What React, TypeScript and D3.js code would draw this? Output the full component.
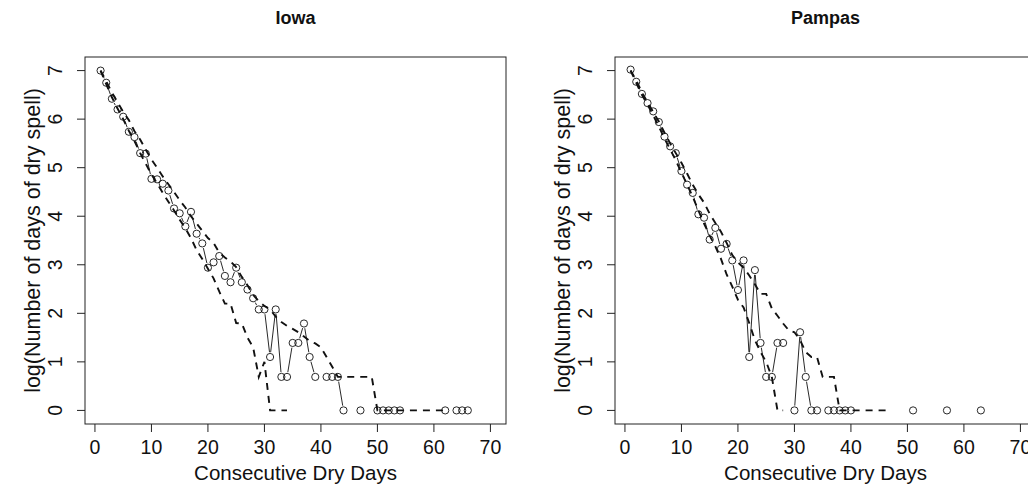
import React from "react";
import * as d3 from "d3";

// ---------- data ----------
const xTicks = [0, 10, 20, 30, 40, 50, 60, 70];
const yTicks = [0, 1, 2, 3, 4, 5, 6, 7];

// Iowa observed (day, log count)
const iowaDays = [1,2,3,4,5,6,7,8,9,10,11,12,13,14,15,16,17,18,19,20,21,22,23,24,25,26,27,28,29,30,31,32,33,34,35,36,37,38,39,41,42,43,44,47,50,51,52,53,54,62,64,65,66];
const iowaLog = [7.0,6.75,6.42,6.2,6.05,5.74,5.63,5.3,5.29,4.77,4.76,4.67,4.53,4.16,4.06,3.79,4.09,3.64,3.44,2.94,3.05,3.18,2.77,2.64,2.94,2.64,2.49,2.31,2.08,2.08,1.1,2.08,0.69,0.69,1.39,1.39,1.79,1.1,0.69,0.69,0.69,0.69,0,0,0,0,0,0,0,0,0,0,0];
// Iowa dashed curves (values for days 1..n)
const iowaUpper = [7.0,6.78,6.55,6.35,6.15,5.98,5.75,5.58,5.37,5.17,5.0,4.82,4.66,4.5,4.33,4.18,4.0,3.85,3.7,3.55,3.45,3.25,3.15,3.07,2.95,2.75,2.58,2.38,2.25,2.15,2.08,1.93,1.82,1.74,1.68,1.61,1.52,1.43,1.38,1.3,1.1,0.9,0.69,0.69,0.69,0.69,0.69,0.69,0.69,0,0,0,0,0,0,0,0,0,0,0,0,0];
const iowaLower = [7.0,6.72,6.45,6.22,6.0,5.76,5.55,5.3,5.08,4.86,4.68,4.48,4.3,4.12,3.93,3.75,3.55,3.3,3.12,2.92,2.72,2.45,2.2,2.2,1.8,1.79,1.5,1.3,0.69,1.0,0,0,0,0];

// Pampas observed
const pampasDays = [1,2,3,4,5,6,7,8,9,10,11,12,13,14,15,16,17,18,19,20,21,22,23,24,25,26,27,28,30,31,32,33,34,36,37,38,39,40,51,57,63];
const pampasLog = [7.02,6.77,6.52,6.33,6.16,5.94,5.64,5.44,5.3,4.93,4.65,4.48,4.04,3.97,3.52,3.76,3.33,3.43,3.09,2.48,3.09,1.1,2.89,1.39,0.69,0.69,1.39,1.39,0,1.61,0.69,0,0,0,0,0,0,0,0,0,0];
const pampasUpper = [7.0,6.8,6.55,6.35,6.15,5.95,5.72,5.5,5.3,5.1,4.88,4.65,4.45,4.28,4.05,3.86,3.68,3.45,3.2,3.05,2.94,2.78,2.6,2.4,2.4,2.1,1.95,1.79,1.65,1.61,1.45,1.2,1.1,1.1,0.69,0.69,0.69,0,0,0,0,0,0,0,0,0,0];
const pampasLower = [7.0,6.75,6.5,6.3,6.08,5.85,5.6,5.38,5.15,4.9,4.65,4.4,4.12,3.85,3.6,3.38,3.12,2.8,2.55,2.28,2.12,1.8,1.45,1.2,1.0,0.69,0,0];

const W = 1028;
const H = 497;
const FONT = "'Liberation Sans', Arial, Helvetica, sans-serif";
const INK = "#111";

type PanelDef = {
  title: string;
  offset: number;
  days: number[];
  vals: number[];
  upper: number[];
  lower: number[];
};

const panels: PanelDef[] = [
  { title: "Iowa", offset: 0, days: iowaDays, vals: iowaLog, upper: iowaUpper, lower: iowaLower },
  { title: "Pampas", offset: 530, days: pampasDays, vals: pampasLog, upper: pampasUpper, lower: pampasLower },
];

const BOX_L = 85, BOX_R = 506, BOX_T = 57, BOX_B = 424;

function Panel({ p }: { p: PanelDef }) {
  const x = d3.scaleLinear().domain([-1.76, 72.76]).range([BOX_L + p.offset, BOX_R + p.offset]);
  const y = d3.scaleLinear().domain([-0.28, 7.28]).range([BOX_B, BOX_T]);
  const dashLine = d3.line<number>().x((_, i) => x(i + 1)).y((v) => y(v));
  const r = 3.6;
  const gap = 4.8;
  const segs: { x1: number; y1: number; x2: number; y2: number }[] = [];
  for (let i = 0; i < p.days.length - 1; i++) {
    if (p.days[i + 1] - p.days[i] !== 1) continue;
    const ax = x(p.days[i]), ay = y(p.vals[i]);
    const bx = x(p.days[i + 1]), by = y(p.vals[i + 1]);
    const dx = bx - ax, dy = by - ay;
    const len = Math.hypot(dx, dy);
    if (len <= 2 * gap) continue;
    const ux = dx / len, uy = dy / len;
    segs.push({ x1: ax + ux * gap, y1: ay + uy * gap, x2: bx - ux * gap, y2: by - uy * gap });
  }
  const cx = (BOX_L + BOX_R) / 2 + p.offset;
  const cy = (BOX_T + BOX_B) / 2;
  return (
    <g>
      <text x={cx} y={24} textAnchor="middle" fontFamily={FONT} fontWeight="bold" fontSize={18} fill={INK}>
        {p.title}
      </text>
      <rect x={BOX_L + p.offset} y={BOX_T} width={BOX_R - BOX_L} height={BOX_B - BOX_T} fill="none" stroke="#222" strokeWidth={1} />
      {/* x axis */}
      {xTicks.map((t) => (
        <g key={"x" + t}>
          <line x1={x(t)} x2={x(t)} y1={BOX_B} y2={BOX_B + 8} stroke="#222" strokeWidth={1} />
          <text x={x(t)} y={454} textAnchor="middle" fontFamily={FONT} fontSize={19.5} fill={INK}>
            {t}
          </text>
        </g>
      ))}
      {/* y axis */}
      {yTicks.map((t) => (
        <g key={"y" + t}>
          <line x1={BOX_L + p.offset - 8} x2={BOX_L + p.offset} y1={y(t)} y2={y(t)} stroke="#222" strokeWidth={1} />
          <text
            transform={`translate(${62 + p.offset},${y(t)}) rotate(-90)`}
            textAnchor="middle"
            fontFamily={FONT}
            fontSize={19.5}
            fill={INK}
          >
            {t}
          </text>
        </g>
      ))}
      <text x={cx} y={480} textAnchor="middle" fontFamily={FONT} fontSize={20.5} fill={INK}>
        Consecutive Dry Days
      </text>
      <text
        transform={`translate(${40 + p.offset},${cy}) rotate(-90)`}
        textAnchor="middle"
        fontFamily={FONT}
        fontSize={21.5}
        fill={INK}
      >
        log(Number of days of dry spell)
      </text>
      {/* dashed curves */}
      <path d={dashLine(p.upper) || ""} fill="none" stroke="#111" strokeWidth={1.9} strokeDasharray="7,6" />
      <path d={dashLine(p.lower) || ""} fill="none" stroke="#111" strokeWidth={1.9} strokeDasharray="7,6" />
      {/* observed line (type b) */}
      {segs.map((s, i) => (
        <line key={"s" + i} x1={s.x1} y1={s.y1} x2={s.x2} y2={s.y2} stroke="#111" strokeWidth={0.9} />
      ))}
      {p.days.map((d, i) => (
        <circle key={"c" + i} cx={x(d)} cy={y(p.vals[i])} r={r} fill="none" stroke="#111" strokeWidth={0.9} />
      ))}
    </g>
  );
}

export default function App() {
  return (
    <svg
      width={W}
      height={H}
      viewBox={`0 0 ${W} ${H}`}
      style={{ position: "absolute", left: 0, top: 0, background: "#fff" }}
    >
      <rect x={0} y={0} width={W} height={H} fill="#fff" />
      {panels.map((p) => (
        <Panel key={p.title} p={p} />
      ))}
    </svg>
  );
}
